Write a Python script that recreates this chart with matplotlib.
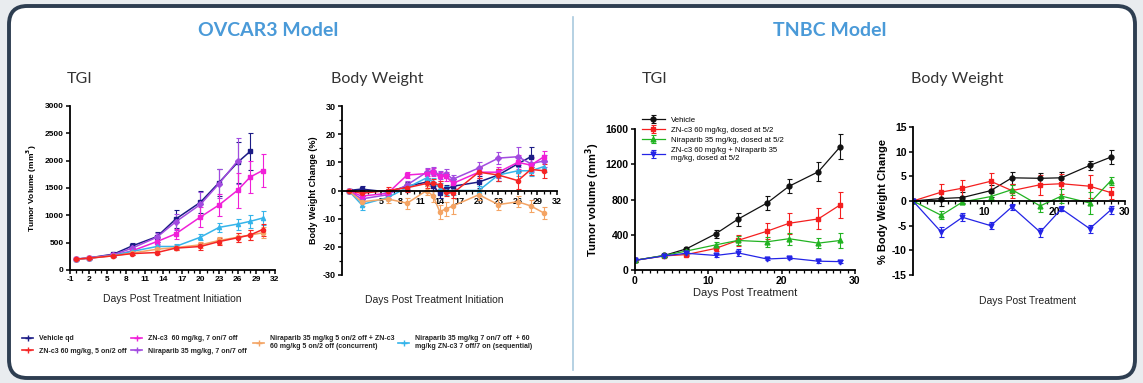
import matplotlib
matplotlib.use("Agg")
import matplotlib.pyplot as plt
from matplotlib.patches import FancyBboxPatch
from matplotlib.lines import Line2D
import numpy as np

plt.rcParams['font.family'] = ['Liberation Sans', 'DejaVu Sans']
plt.rcParams['axes.unicode_minus'] = False

# ---- OVCAR3 tumour volume (mm3) ----
ov_days = [0, 2, 6, 9, 13, 16, 20, 23, 26, 28, 30]
ov_tgi = {
    'Vehicle qd': ([200, 220, 290, 440, 610, 930, 1240, 1600, 1970, 2170],
                   [15, 20, 30, 60, 90, 160, 200, 250, 380, 340]),
    'Niraparib 35 mg/kg, 7 on/7 off': ([200, 220, 280, 400, 600, 880, 1200, 1580, 2000],
                                       [15, 20, 30, 50, 80, 150, 220, 260, 420]),
    'ZN-c3  60 mg/kg, 7 on/7 off': ([200, 215, 270, 350, 520, 660, 970, 1190, 1460, 1700, 1820],
                                    [15, 20, 30, 40, 60, 90, 180, 200, 320, 300, 310]),
    'Niraparib 35 mg/kg 7 on/7 off  + 60\nmg/kg ZN-c3 7 off/7 on (sequential)':
        ([200, 215, 270, 340, 430, 430, 600, 780, 840, 890, 950],
         [15, 20, 25, 30, 40, 50, 60, 80, 100, 120, 130]),
    'Niraparib 35 mg/kg 5 on/2 off + ZN-c3\n60 mg/kg 5 on/2 off (concurrent)':
        ([200, 215, 260, 310, 380, 410, 460, 540, 600, 640, 680],
         [15, 20, 25, 30, 40, 50, 60, 70, 80, 90, 100]),
    'ZN-c3 60 mg/kg, 5 on/2 off': ([200, 215, 260, 300, 320, 400, 430, 520, 590, 640, 740],
                                   [15, 20, 25, 30, 30, 40, 60, 70, 80, 90, 110]),
}

# ---- OVCAR3 body weight change (%) ----
ov_bw_days = [0, 2, 6, 9, 12, 13, 14, 15, 16, 20, 23, 26, 28, 30]
ov_bw = {
    'Vehicle qd': ([0, 0.5, -0.5, 1.5, 3, 1.5, -1, 0.5, 1.5, 3, 5.5, 9.5, 12],
                   [0.5, 1, 1, 1.5, 1.5, 1.5, 1.5, 1.5, 1.5, 2, 2, 2.5, 3.5]),
    'Niraparib 35 mg/kg, 7 on/7 off': ([0, -3, -1.5, 2, 6.5, 7, 5.5, 6, 4, 8, 11.5, 12, 9.5, 10.5],
                                       [0.5, 1, 1, 1.5, 1.5, 1.5, 1.5, 1.5, 1.5, 2, 2, 3.5, 2.5, 2]),
    'ZN-c3  60 mg/kg, 7 on/7 off': ([0, -2, -1, 5.5, 6, 6.5, 5, 5, 2.5, 6.5, 6.5, 10, 9, 12],
                                    [0.5, 1, 1, 1.2, 1.5, 1.5, 1.5, 1.5, 1.5, 2, 2, 2.5, 2.5, 2]),
    'Niraparib 35 mg/kg 7 on/7 off  + 60\nmg/kg ZN-c3 7 off/7 on (sequential)':
        ([0, -5, -2.5, 1, 4.5, 3, 1, 0, 0, 0, 5.5, 7, 7, 8.5],
         [0.5, 2, 1, 1.5, 1.5, 1.5, 1.5, 1.5, 1.5, 1.5, 2, 2, 2, 2]),
    'Niraparib 35 mg/kg 5 on/2 off + ZN-c3\n60 mg/kg 5 on/2 off (concurrent)':
        ([0, -4, -3, -4.5, 0, -2, -7.5, -6.5, -5.5, -1.5, -5, -4, -5.5, -8],
         [0.5, 1.5, 1.5, 2, 1.5, 2, 2.5, 2.5, 3, 2, 2, 2, 2, 2]),
    'ZN-c3 60 mg/kg, 5 on/2 off': ([0, -1, 0, 1, 2.5, 2.5, 2, -0.5, -1, 6.5, 5.5, 3.5, 7.5, 7],
                                   [0.5, 1, 1.2, 1.5, 1.5, 1.5, 1.5, 1.5, 1.5, 2, 2, 3, 2, 2.5]),
}

ov_style = {
    'Vehicle qd': ('#1c1c86', 's'),
    'Niraparib 35 mg/kg, 7 on/7 off': ('#a24be0', 'D'),
    'ZN-c3  60 mg/kg, 7 on/7 off': ('#f020d8', 's'),
    'Niraparib 35 mg/kg 7 on/7 off  + 60\nmg/kg ZN-c3 7 off/7 on (sequential)': ('#35b4ea', '^'),
    'Niraparib 35 mg/kg 5 on/2 off + ZN-c3\n60 mg/kg 5 on/2 off (concurrent)': ('#f4a464', 'o'),
    'ZN-c3 60 mg/kg, 5 on/2 off': ('#f52525', 'o'),
}

# ---- TNBC ----
tn_days = [0, 4, 7, 11, 14, 18, 21, 25, 28]
tn_tgi = {
    'Vehicle': ([110, 165, 240, 410, 575, 760, 950, 1115, 1400],
                [15, 15, 20, 45, 75, 75, 80, 110, 140]),
    'ZN-c3 60 mg/kg, dosed at 5/2': ([110, 160, 175, 245, 335, 440, 530, 580, 740],
                                     [15, 15, 20, 30, 60, 90, 120, 120, 150]),
    'Niraparib 35 mg/kg, dosed at 5/2': ([110, 165, 215, 285, 335, 320, 355, 305, 335],
                                         [15, 15, 20, 35, 50, 60, 70, 55, 80]),
    'ZN-c3 60 mg/kg + Niraparib 35\nmg/kg, dosed at 5/2': ([110, 160, 190, 165, 195, 125, 135, 100, 95],
                                                           [15, 15, 15, 20, 40, 15, 15, 15, 20]),
}
tn_bw = {
    'Vehicle': ([0, 0.5, 0.7, 2.1, 4.7, 4.6, 4.7, 7.2, 8.9],
                [0.2, 1.5, 1.2, 1.2, 1.2, 1.1, 1.1, 1.0, 1.4]),
    'ZN-c3 60 mg/kg, dosed at 5/2': ([0, 1.8, 2.6, 4.0, 2.1, 3.3, 3.5, 3.0, 1.7],
                                     [0.2, 1.6, 1.6, 1.6, 1.4, 2.0, 2.0, 2.3, 1.2]),
    'Niraparib 35 mg/kg, dosed at 5/2': ([0, -2.9, -0.2, 0.9, 2.3, -1.0, 1.0, -0.4, 4.1],
                                         [0.2, 0.8, 0.5, 0.8, 1.0, 1.3, 1.4, 2.2, 0.8]),
    'ZN-c3 60 mg/kg + Niraparib 35\nmg/kg, dosed at 5/2': ([0, -6.3, -3.3, -5.0, -1.2, -6.3, -1.6, -5.6, -1.8],
                                                           [0.2, 1.0, 0.8, 0.7, 0.6, 0.9, 0.5, 0.8, 0.8]),
}
tn_style = {
    'Vehicle': ('#111111', 'o'),
    'ZN-c3 60 mg/kg, dosed at 5/2': ('#f41f1f', 's'),
    'Niraparib 35 mg/kg, dosed at 5/2': ('#22b322', '^'),
    'ZN-c3 60 mg/kg + Niraparib 35\nmg/kg, dosed at 5/2': ('#2424e6', 'v'),
}

W, H = 1143, 383
fig = plt.figure(figsize=(W / 100, H / 100), dpi=100)
fig.patch.set_facecolor('#e9ecef')


def box(l, t, r, b):
    return [l / W, (H - b) / H, (r - l) / W, (b - t) / H]


# outer rounded frame
frame = FancyBboxPatch((9 / W, 5 / H), 1126 / W, 372 / H,
                       boxstyle='round,pad=0,rounding_size=0.016',
                       transform=fig.transFigure, facecolor='white',
                       edgecolor='#2e3e51', linewidth=2.8, zorder=-5, mutation_aspect=W / H)
fig.patches.append(frame)
fig.add_artist(Line2D([573 / W, 573 / W], [(H - 370) / H, (H - 17) / H],
                      color='#a9c9de', lw=1.2, transform=fig.transFigure, zorder=-4))

fig.text(268 / W, 1 - 30 / H, 'OVCAR3 Model', color='#4a9ad8', fontsize=14,
         fontweight='bold', family='Lato', ha='center', va='center')
fig.text(830 / W, 1 - 30 / H, 'TNBC Model', color='#4a9ad8', fontsize=14,
         fontweight='bold', family='Lato', ha='center', va='center')
for x, s in [(80, 'TGI'), (377, 'Body Weight'), (655, 'TGI'), (957, 'Body Weight')]:
    fig.text(x / W, 1 - 79 / H, s, color='#333333', fontsize=11.5, family='Lato',
             ha='center', va='center')


def style_axes(ax, tsize):
    ax.patch.set_alpha(0)
    for s in ['top', 'right']:
        ax.spines[s].set_visible(False)
    for s in ['left', 'bottom']:
        ax.spines[s].set_linewidth(1.3)
    ax.tick_params(width=1.1, length=3, labelsize=tsize, pad=1.5)
    ax.tick_params(which='minor', width=0.9, length=2)
    for lab in ax.get_xticklabels() + ax.get_yticklabels():
        lab.set_fontweight('bold')


def draw(ax, days, data, styles, ms, lw):
    for name, (vals, errs) in data.items():
        c, m = styles[name]
        n = len(vals)
        ax.errorbar(days[:n], vals, yerr=errs, color=c, marker=m, ms=ms, lw=lw,
                    elinewidth=0.8, capsize=1.8, capthick=0.8, label=name)


# panel 1: OVCAR3 TGI
ax1 = fig.add_axes(box(70, 106, 275, 270))
draw(ax1, ov_days, ov_tgi, ov_style, 3, 1.1)
ax1.set_xlim(-1, 32)
ax1.set_ylim(0, 3000)
ax1.set_xticks(np.arange(-1, 33, 3))
ax1.set_xticks(np.arange(-1, 33, 1), minor=True)
ax1.set_yticks(np.arange(0, 3001, 500))
style_axes(ax1, 6)
ax1.set_ylabel('Tumor Volume (mm$^\\mathbf{3}$)', fontsize=6, fontweight='bold', labelpad=4)
ax1.set_xlabel('Days Post Treatment Initiation', fontsize=7.5, labelpad=8, color='#222222')

# panel 2: OVCAR3 body weight
ax2 = fig.add_axes(box(342, 106, 557, 275))
draw(ax2, ov_bw_days, ov_bw, ov_style, 3, 1.1)
ax2.set_xlim(-1, 32)
ax2.set_ylim(-30, 30)
ax2.spines['bottom'].set_position(('data', 0))
ax2.set_xticks(np.arange(-1, 33, 3))
ax2.set_xticklabels(['', ''] + [str(v) for v in range(5, 33, 3)])
ax2.set_xticks(np.arange(-1, 33, 1), minor=True)
ax2.set_yticks(np.arange(-30, 31, 10))
ax2.set_yticks(np.arange(-30, 31, 5), minor=True)
style_axes(ax2, 6.5)
ax2.set_ylabel('Body Weight Change (%)', fontsize=6.5, fontweight='bold', labelpad=3)
ax2.set_xlabel('Days Post Treatment Initiation', fontsize=7.5, color='#222222')
ax2.xaxis.set_label_coords(0.43, -0.12)

# panel 3: TNBC TGI
ax3 = fig.add_axes(box(635, 129, 855, 270))
draw(ax3, tn_days, tn_tgi, tn_style, 3.5, 0.9)
ax3.set_xlim(0, 30)
ax3.set_ylim(0, 1600)
ax3.set_xticks([0, 10, 20, 30])
ax3.set_xticks(np.arange(0, 31, 1), minor=True)
ax3.set_yticks(np.arange(0, 1601, 400))
style_axes(ax3, 7.5)
ax3.set_ylabel('Tumor volume (mm$^\\mathbf{3}$)', fontsize=8, fontweight='bold', labelpad=3)
ax3.set_xlabel('Days Post Treatment', fontsize=8, labelpad=1, color='#222222')
ax3.legend(loc='upper left', bbox_to_anchor=(0.03, 1.09), fontsize=5.6, frameon=False,
           handlelength=3, handletextpad=0.8, labelspacing=0.35, borderaxespad=0,
           borderpad=0)

# panel 4: TNBC body weight
ax4 = fig.add_axes(box(913, 127, 1125, 275))
draw(ax4, tn_days, tn_bw, tn_style, 3.5, 0.9)
ax4.set_xlim(0, 30)
ax4.set_ylim(-15, 15)
ax4.spines['bottom'].set_position(('data', 0))
ax4.set_xticks([10, 20, 30])
ax4.set_xticks(np.arange(0, 31, 1), minor=True)
ax4.set_yticks(np.arange(-15, 16, 5))
style_axes(ax4, 7.5)
ax4.set_ylabel('% Body Weight Change', fontsize=8, fontweight='bold', labelpad=3)
ax4.set_xlabel('Days Post Treatment', fontsize=7.5, color='#222222')
ax4.xaxis.set_label_coords(0.54, -0.14)

# OVCAR3 legend, four columns
cols = [
    (22, ['Vehicle qd', 'ZN-c3 60 mg/kg, 5 on/2 off']),
    (131, ['ZN-c3  60 mg/kg, 7 on/7 off', 'Niraparib 35 mg/kg, 7 on/7 off']),
    (253, ['Niraparib 35 mg/kg 5 on/2 off + ZN-c3\n60 mg/kg 5 on/2 off (concurrent)']),
    (398, ['Niraparib 35 mg/kg 7 on/7 off  + 60\nmg/kg ZN-c3 7 off/7 on (sequential)']),
]
for x, names in cols:
    hs = [Line2D([], [], color=ov_style[n][0], marker='+', ms=4, lw=1.2) for n in names]
    leg = fig.legend(hs, names, loc='upper left', bbox_to_anchor=(x / W, 1 - 335 / H),
                     fontsize=5, frameon=False, handlelength=1.6, handletextpad=0.9,
                     labelspacing=0.8, borderaxespad=0, borderpad=0)
    for t in leg.get_texts():
        t.set_fontweight('bold')
        t.set_color('#222222')

fig.savefig('out.png', dpi=100, facecolor=fig.get_facecolor())
